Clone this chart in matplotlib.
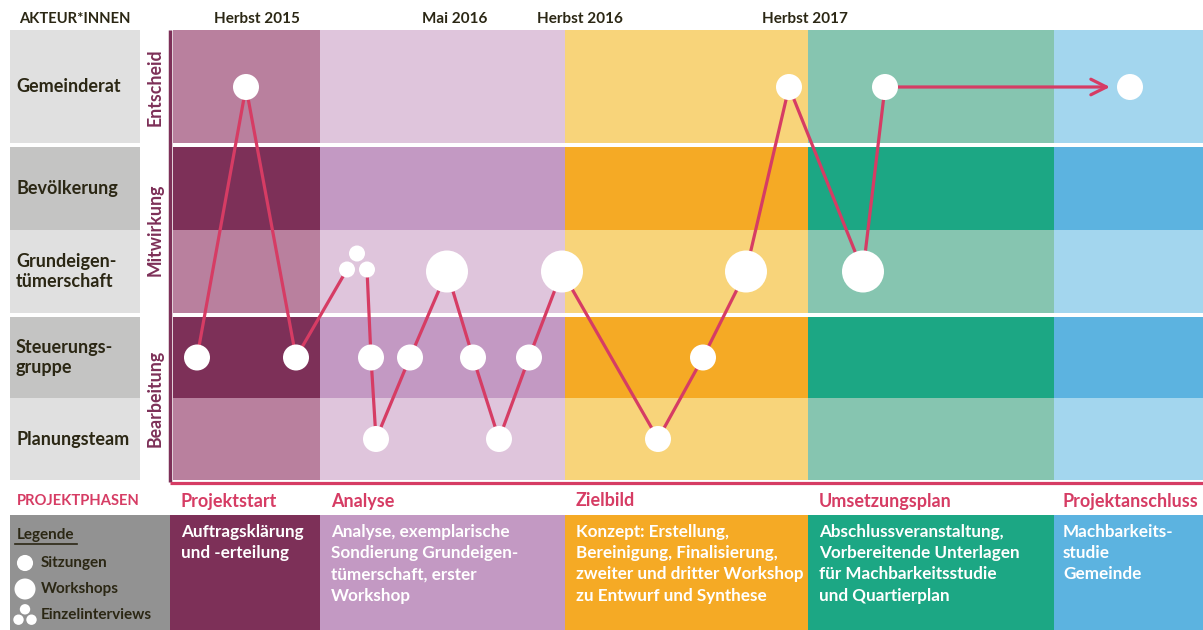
import matplotlib.pyplot as plt
from matplotlib.patches import Rectangle, Circle

plt.rcParams['font.family'] = ['Lato', 'DejaVu Sans']

# phases (columns of the timeline)
phases = ['Projektstart', 'Analyse', 'Zielbild', 'Umsetzungsplan', 'Projektanschluss']
phase_edges = [173, 320, 565, 808, 1054, 1203]
phase_light = ['#b9809e', '#dfc5dc', '#f8d47a', '#86c5b0', '#a3d6ee']
phase_dark = ['#7d3058', '#c399c3', '#f5aa25', '#1ca784', '#5cb3e0']
phase_desc = ['Auftragsklärung\nund -erteilung',
              'Analyse, exemplarische\nSondierung Grundeigen-\ntümerschaft, erster\nWorkshop',
              'Konzept: Erstellung,\nBereinigung, Finalisierung,\nzweiter und dritter Workshop\nzu Entwurf und Synthese',
              'Abschlussveranstaltung,\nVorbereitende Unterlagen\nfür Machbarkeitsstudie\nund Quartierplan',
              'Machbarkeits-\nstudie\nGemeinde']

# actors (rows)
actors = ['Gemeinderat', 'Bevölkerung', 'Grundeigen-\ntümerschaft', 'Steuerungs-\ngruppe', 'Planungsteam']
row_top = [30, 147, 230, 317, 398]
row_bot = [143, 230, 313, 398, 480]
row_dark = [False, True, False, True, False]
groups = ['Entscheid', 'Mitwirkung', 'Bearbeitung']
group_center = [87, 230, 398]

# timeline labels
dates = ['Herbst 2015', 'Mai 2016', 'Herbst 2016', 'Herbst 2017']
date_x = [257, 455, 580, 805]

# events: timeline position, actor row, kind (S=Sitzung, W=Workshop, E=Einzelinterviews)
event_x = [197, 246, 296, 357, 371, 376, 410, 447, 473, 499, 529, 562, 658, 703, 746, 789, 863, 885]
event_row = [3, 0, 3, 2, 3, 4, 3, 2, 3, 4, 3, 2, 4, 3, 2, 0, 2, 0]
event_kind = ['S', 'S', 'S', 'E', 'S', 'S', 'S', 'W', 'S', 'S', 'S', 'W', 'S', 'S', 'W', 'S', 'W', 'S']
final_x, final_row = 1130, 0

line_col = '#d63c64'
txt_col = '#2b2714'
radius = {'S': 13, 'W': 21, 'E': 8}

fig = plt.figure(figsize=(12.03, 6.3), dpi=100)
ax = fig.add_axes([0, 0, 1, 1])
ax.set_xlim(0, 1203)
ax.set_ylim(630, 0)
ax.axis('off')

row_c = [(a + b) / 2 for a, b in zip(row_top, row_bot)]
row_c[0] = 87

# background grid
for i in range(len(phases)):
    x0, x1 = phase_edges[i], phase_edges[i + 1]
    for r in range(len(actors)):
        col = phase_dark[i] if row_dark[r] else phase_light[i]
        ax.add_patch(Rectangle((x0, row_top[r]), x1 - x0, row_bot[r] - row_top[r], color=col, lw=0))
    # description box
    bx = 170 if i == 0 else x0
    ax.add_patch(Rectangle((bx, 515), x1 - bx, 115, color=phase_dark[i], lw=0))
    tx = bx + 11 if i < 4 else bx + 9
    ax.text(tx, 524, phase_desc[i], color='white', fontsize=12.3, fontweight='bold',
            va='top', ha='left', linespacing=1.4)
    ax.text(tx, 501, phases[i], color=line_col, fontsize=13,
            fontweight='bold', va='center', ha='left')

ax.plot([170, 170], [30, 482], color='#7d3058', lw=2.5, solid_capstyle='butt')
ax.plot([170, 1203], [482.5, 482.5], color=line_col, lw=2.3, solid_capstyle='butt')

# left actor labels
for r in range(len(actors)):
    col = '#c4c4c3' if row_dark[r] else '#e0e0e0'
    ax.add_patch(Rectangle((10, row_top[r]), 130, row_bot[r] - row_top[r], color=col, lw=0))
    ax.text(16, row_c[r], actors[r], color=txt_col, fontsize=13, fontweight='bold',
            va='center', ha='left', linespacing=1.25)
for g, yc in zip(groups, group_center):
    ax.text(155, yc, g, color='#7d3058', fontsize=12.8, fontweight='bold', rotation=90,
            va='center', ha='center')

ax.text(75, 19, 'AKTEUR*INNEN', color=txt_col, fontsize=10.6, fontweight='bold', ha='center', va='center')
ax.text(78, 501, 'PROJEKTPHASEN', color=line_col, fontsize=10.6, fontweight='bold', ha='center', va='center')
for d, x in zip(dates, date_x):
    ax.text(x, 19, d, color=txt_col, fontsize=11, fontweight='bold', ha='center', va='center')

# connecting line
ex = [x for x in event_x]
ey = [row_c[r] for r in event_row]
ci = event_kind.index('E')
ax.plot(ex[:ci] + [ex[ci] - 10], ey[:ci] + [ey[ci] - 2], color=line_col, lw=2.3, zorder=3)
ax.plot([ex[ci] + 10] + ex[ci + 1:], [ey[ci] - 2] + ey[ci + 1:], color=line_col, lw=2.3, zorder=3)
ax.annotate('', xy=(final_x - 20, row_c[final_row]), xytext=(ex[-1], ey[-1]),
            arrowprops=dict(arrowstyle='->', color=line_col, lw=2.3, mutation_scale=28,
                            shrinkA=0, shrinkB=0), zorder=3)

def draw_event(x, y, kind, scale=1.0):
    if kind == 'E':
        r = radius['E'] * scale
        for dx, dy in [(-10, -2), (10, -2), (0, -18)]:
            ax.add_patch(Circle((x + dx * scale, y + dy * scale), r, color='white', lw=0, zorder=4))
    else:
        ax.add_patch(Circle((x, y), radius[kind] * scale, color='white', lw=0, zorder=4))

for x, y, k in zip(ex, ey, event_kind):
    draw_event(x, y, k)
draw_event(final_x, row_c[final_row], 'S')

# legend
ax.add_patch(Rectangle((10, 515), 160, 115, color='#929292', lw=0))
ax.text(17, 535, 'Legende', color=txt_col, fontsize=11, fontweight='bold', va='center', ha='left')
ax.plot([15, 77], [543.5, 543.5], color=txt_col, lw=1.2)
leg_items = ['Sitzungen', 'Workshops', 'Einzelinterviews']
leg_kind = ['S', 'W', 'E']
leg_y = [563, 589, 615]
leg_scale = [0.62, 0.5, 0.65]
for name, k, y, s in zip(leg_items, leg_kind, leg_y, leg_scale):
    draw_event(25, y + (6 if k == 'E' else 0), k, s)
    ax.text(41, y, name, color=txt_col, fontsize=11, fontweight='bold', va='center', ha='left')

fig.savefig('out.png', dpi=100)
